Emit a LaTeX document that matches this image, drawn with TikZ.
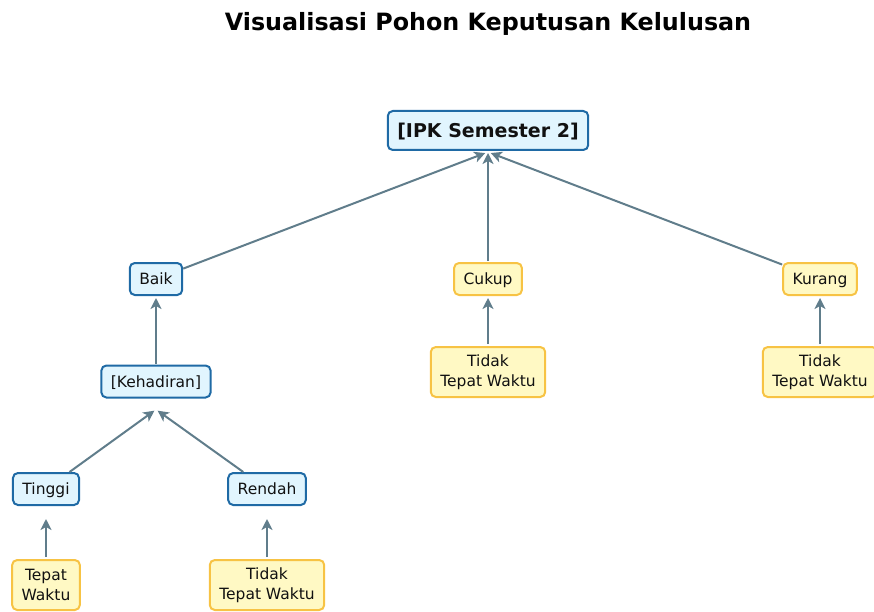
\documentclass[tikz,border=0pt]{standalone}
\usepackage{fontspec}
\setmainfont{DejaVu Sans}
\usetikzlibrary{arrows.meta,calc}
\definecolor{bfill}{HTML}{E1F5FE}
\definecolor{bdraw}{HTML}{1F6AA5}
\definecolor{yfill}{HTML}{FFF9C4}
\definecolor{ydraw}{HTML}{F7C344}
\definecolor{arrc}{HTML}{607D8B}
\definecolor{txt}{HTML}{111111}
\begin{document}
\begin{tikzpicture}[x=1pt,y=-1pt,
  base/.style={rounded corners=5pt,line width=2pt,inner xsep=9.5pt,inner ysep=0pt,align=center,text=txt,
    font=\fontsize{15.5}{19.5}\selectfont},
  one/.style={minimum height=32pt,text height=11.3pt,text depth=0pt},
  two/.style={minimum height=50pt},
  bluebox/.style={base,fill=bfill,draw=bdraw},
  yelbox/.style={base,fill=yfill,draw=ydraw},
  arr/.style={draw=arrc,line width=2pt,-{Stealth[length=11pt,width=11pt,inset=3pt]}}
]
\useasboundingbox (0,0) rectangle (874,612);
\node[font=\fontsize{23.8}{28}\selectfont\bfseries,text=black] (title) at (488,24) {Visualisasi Pohon Keputusan Kelulusan};
\node[bluebox,one,minimum height=39pt,font=\fontsize{19}{23}\selectfont\bfseries,text height=13.9pt,text depth=0pt] (ipk) at (488,130.5) {[IPK Semester 2]};
\node[bluebox,one] (baik) at (156,279) {Baik};
\node[bluebox,one] (keh) at (156,381.5) {[Kehadiran]};
\node[bluebox,one] (tinggi) at (46,489) {Tinggi};
\node[bluebox,one] (rendah) at (267,489) {Rendah};
\node[yelbox,two] (tepat) at (46,585) {Tepat\\Waktu};
\node[yelbox,two] (ttw1) at (267,585) {Tidak\\Tepat Waktu};
\node[yelbox,one] (cukup) at (488,279) {Cukup};
\node[yelbox,two] (ttw2) at (488,372) {Tidak\\Tepat Waktu};
\node[yelbox,one] (kurang) at (820,279) {Kurang};
\node[yelbox,two] (ttw3) at (820,372) {Tidak\\Tepat Waktu};

\coordinate (ipkin) at ($(ipk.south)+(0,1)$);
\coordinate (kehin) at ($(keh.south)+(0,11)$);

\draw[arr,shorten >=3pt] (baik) -- (ipkin);
\draw[arr,shorten <=1pt,shorten >=2pt] (cukup.north) -- (ipk.south);
\draw[arr,shorten >=3pt] (kurang) -- (ipkin);
\draw[arr,shorten <=1pt,shorten >=2pt] (keh.north) -- (baik.south);
\draw[arr,shorten >=2pt] (tinggi) -- (kehin);
\draw[arr,shorten >=2pt] (rendah) -- (kehin);
\draw[arr,shorten <=2pt,shorten >=13pt] (tepat.north) -- (tinggi.south);
\draw[arr,shorten <=2pt,shorten >=13pt] (ttw1.north) -- (rendah.south);
\draw[arr,shorten <=2pt,shorten >=2pt] (ttw2.north) -- (cukup.south);
\draw[arr,shorten <=2pt,shorten >=2pt] (ttw3.north) -- (kurang.south);
\end{tikzpicture}
\end{document}
